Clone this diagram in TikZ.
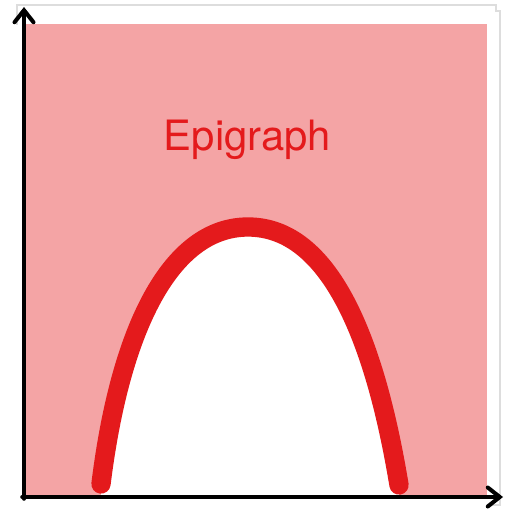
\documentclass[tikz,border=0pt]{standalone}
\usepackage{fontspec}
\newfontfamily\epifont{TeX Gyre Heros}
\usetikzlibrary{arrows.meta}
\definecolor{epired}{RGB}{228,26,28}
\definecolor{epipink}{RGB}{244,164,165}
\definecolor{framegray}{RGB}{221,221,221}
\begin{document}
\begin{tikzpicture}[x=0.02cm, y=-0.02cm,
      >={Straight Barb[length=2.4mm, width=3.8mm, line cap=round]},
      axis/.style={->, black, line width=2.3pt, line cap=round},
      graphline/.style={epired, line width=11pt, line cap=round, line join=round},
      every node/.append style={font=\epifont}]
    \useasboundingbox (0,0) rectangle (505,509);

    % ---------------- frame and epigraph region ----------------
    \draw[framegray, line width=0.6pt] (17,25) -- (17,5) -- (496,5) -- (496,11) -- (500,11) -- (500,505) -- (487,505);
    \fill[epipink] (24,24) rectangle (487,497);
    \coordinate (left) at (101,484);
    \coordinate (peak) at (248,227);
    \coordinate (right) at (399,485);
    \fill[white] (left) .. controls (120,330) and (170,227) .. (peak)
      .. controls (330,227) and (375,340) .. (right) -- (399,497) -- (101,497) -- cycle;

    % ---------------- the function ----------------
    \draw[graphline] (left) .. controls (120,330) and (170,227) .. (peak)
      .. controls (330,227) and (375,340) .. (right);
    \node[epired, anchor=base, font=\epifont\fontsize{23.8pt}{28pt}\selectfont] (epi) at (247.5,151) {Epigraph};

    % ---------------- axes ----------------
    \coordinate (origin) at (24,497);
    \coordinate (ytop) at (24,7);
    \coordinate (xend) at (503,497);
    \draw[axis] ([yshift=-1pt]origin) -- (ytop);
    \draw[axis] ([xshift=-1pt]origin) -- (xend);
\end{tikzpicture}
\end{document}
